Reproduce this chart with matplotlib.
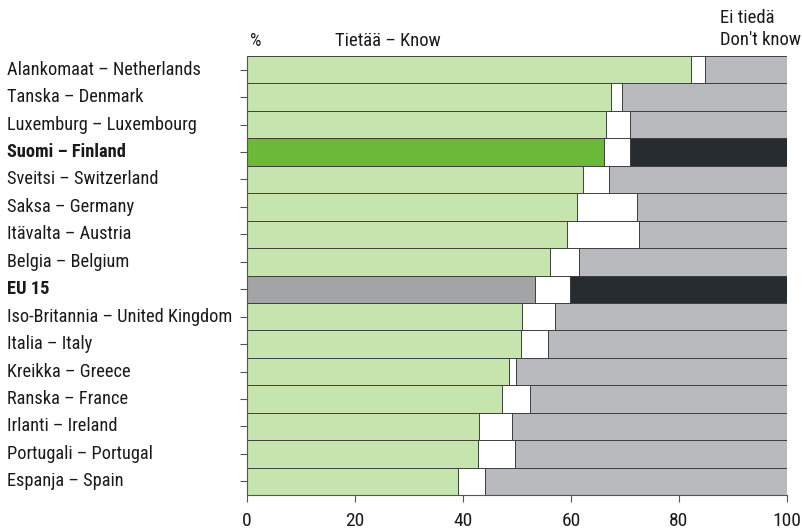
import matplotlib
matplotlib.use("Agg")
import matplotlib.pyplot as plt
import matplotlib.transforms as mtransforms
from matplotlib import font_manager

countries = ["Alankomaat – Netherlands", "Tanska – Denmark", "Luxemburg – Luxembourg",
             "Suomi – Finland", "Sveitsi – Switzerland", "Saksa – Germany",
             "Itävalta – Austria", "Belgia – Belgium", "EU 15",
             "Iso-Britannia – United Kingdom", "Italia – Italy", "Kreikka – Greece",
             "Ranska – France", "Irlanti – Ireland", "Portugali – Portugal", "Espanja – Spain"]
know = [82.3, 67.4, 66.5, 66.1, 62.3, 61.2, 59.2, 56.1, 53.3,
        50.9, 50.7, 48.6, 47.2, 42.9, 42.8, 39.0]
know_plus_gap = [84.9, 69.5, 71.0, 71.0, 67.1, 72.2, 72.6, 61.5, 59.8,
                 57.0, 55.8, 49.9, 52.4, 49.1, 49.7, 44.1]
bold_rows = ["Suomi – Finland", "EU 15"]

# condensed face if there is one, else DejaVu Sans
installed = set(f.name for f in font_manager.fontManager.ttflist)
fam = 'DejaVu Sans'
for cand in ['Roboto Condensed', 'Liberation Sans Narrow', 'Open Sans Condensed']:
    if cand in installed:
        fam = cand
        break
plt.rcParams['font.family'] = [fam, 'DejaVu Sans']
if fam == 'DejaVu Sans':
    plt.rcParams['font.stretch'] = 'condensed'

fig = plt.figure(figsize=(8.03, 5.31), dpi=100)
ax = fig.add_axes([247/803, 36/531, 540/803, 439/531])

n = len(countries)
ys = list(range(n))
for i in range(n):
    name = countries[i]
    if name == "Suomi – Finland":
        c1, c3 = "#6cb93a", "#262c30"
    elif name == "EU 15":
        c1, c3 = "#a3a4a6", "#262c30"
    else:
        c1, c3 = "#c6e4ad", "#b9babe"
    k = know[i]
    g = know_plus_gap[i] - k
    d = 100 - know_plus_gap[i]
    ax.barh(i, k, left=0, height=1.0, color=c1, edgecolor="#404040", linewidth=0.7)
    ax.barh(i, g, left=k, height=1.0, color="white", edgecolor="#404040", linewidth=0.7)
    ax.barh(i, d, left=know_plus_gap[i], height=1.0, color=c3, edgecolor="#404040", linewidth=0.7)

ax.set_xlim(0, 100)
ax.set_ylim(n - 0.5, -0.5)
ax.set_xticks([0, 20, 40, 60, 80, 100])
ax.tick_params(axis='x', labelsize=14, length=5, width=0.8, color="#555555", pad=7,
               labelcolor="#1a1a1a")
ax.set_yticks(ys)
ax.set_yticklabels([])
ax.tick_params(axis='y', length=5, width=0.8, color="#555555")
for side in ["top", "right"]:
    ax.spines[side].set_visible(False)
ax.spines["left"].set_color("#555555")
ax.spines["bottom"].set_color("#555555")

trans = mtransforms.blended_transform_factory(fig.transFigure, ax.transData)
for i, name in enumerate(countries):
    w = "bold" if name in bold_rows else "normal"
    ax.text(7/803, i, name, transform=trans, ha="left", va="center",
            fontsize=13.2, fontweight=w, color="#1a1a1a")

fig.text(250/803, 1 - 41/531, "%", fontsize=13, ha="left", va="center", color="#1a1a1a")
fig.text(335/803, 1 - 41/531, "Tietää – Know", fontsize=13.4, ha="left", va="center", color="#1a1a1a")
fig.text(801/803, 1 - 29/531, "Ei tiedä\nDon't know", fontsize=13.4, ha="right", va="center",
         color="#1a1a1a", multialignment="left", linespacing=1.25)

fig.savefig("out.png", dpi=100)
